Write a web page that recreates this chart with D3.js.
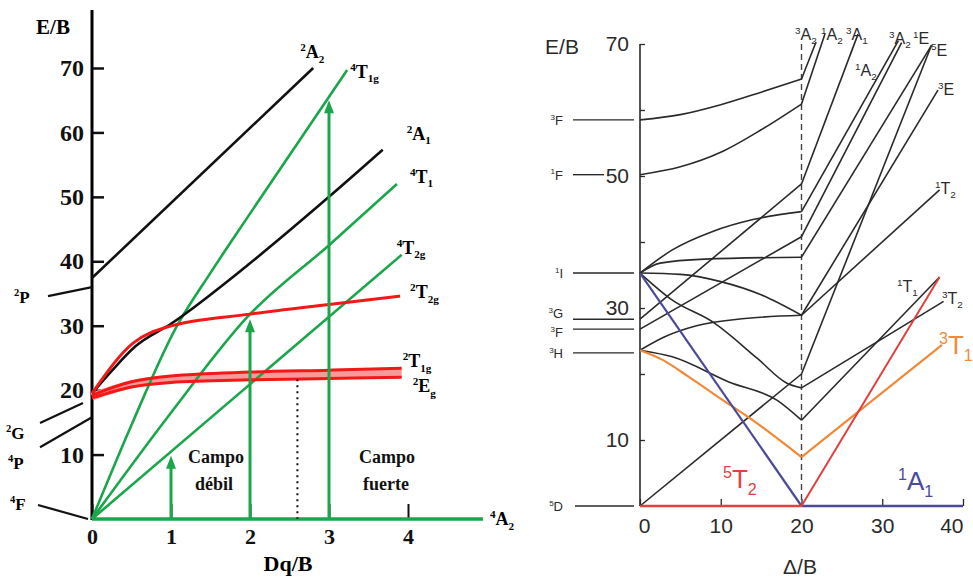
<!DOCTYPE html>
<html><head><meta charset="utf-8">
<script src="https://cdn.jsdelivr.net/npm/d3@7"></script>
<style>body{margin:0;background:#fff}</style>
</head><body>
<svg id="c" width="973" height="578"></svg>
<script>
// ===== Left diagram: d3 ion, E/B against Dq/B =====
const dqTicks = [0, 1, 2, 3, 4];
const ebTicksLeft = [10, 20, 30, 40, 50, 60, 70];

const leftBlack = [
  { name: "2A2", pts: [[0, 37.4], [2.8, 70]] },
  { name: "2A1", pts: [[0, 19.5], [0.25, 23], [0.55, 26.8], [1, 30.3], [2, 39.7], [3, 50], [3.68, 57.3]] }
];
const leftGreen = [
  { name: "4T2g", pts: [[0, 0], [3.92, 41]] },
  { name: "4T1", pts: [[0, 0], [1, 16.5], [1.97, 31.4], [3, 42.5], [3.86, 52]] },
  { name: "4T1g", pts: [[0, 0], [0.5, 14.6], [1.05, 29.4], [1.5, 38.2], [2, 47.4], [3.23, 69.7]] }
];
const leftRed = [
  { name: "2T2g", pts: [[0, 19.5], [0.52, 27.3], [0.95, 29.8], [2, 31.8], [3, 33.3], [3.9, 34.6]] },
  { name: "2T1g", pts: [[0, 19.2], [0.5, 21.3], [1, 22.2], [2, 22.8], [3, 23.1], [3.92, 23.4]] },
  { name: "2Eg", pts: [[0, 18.8], [0.5, 20.5], [1, 21.2], [2, 21.6], [3, 21.8], [3.92, 22]] }
];
// free-ion terms at Dq = 0
const leftFreeIonTerms = ["2P", "2G", "4P", "4F"];
const leftFreeIonE = [36, 18, 15.8, 0];
// transitions drawn as arrows from the ground state
const arrowDq = [1, 2, 3];
const arrowTopE = [9.8, 31, 65];
const crossoverDq = 2.6;
const crossoverE = 21.7;

// ===== Right diagram: d6 ion, E/B against Delta/B =====
const deltaTicks = [0, 10, 20, 30, 40];
const ebTicksRight = [10, 20, 30, 40, 50, 60, 70];
const ebLabelsRight = [10, 30, 50, 70];
const rightFreeIonTerms = ["3F", "1F", "1I", "3G", "3F", "3H", "5D"];
const rightFreeIonE = [58.5, 50.2, 35.3, 28.3, 26.8, 23.2, 0];
const spinCrossover = 20;

// weak-field branch (Delta/B 0..20)
const weakBlack = [
  [[0, 58.5], [5, 59.3], [10, 60.8], [15, 62.7], [20, 64.7]],
  [[0, 50.2], [5, 51.4], [10, 53.6], [15, 57], [20, 60.9]],
  [[0, 28.3], [20, 48.8]],
  [[0, 35.3], [4, 38.8], [9, 41.6], [14, 43.4], [20, 44.6]],
  [[0, 26.8], [20, 40.8]],
  [[0, 35.3], [2.5, 36.8], [8, 37.4], [20, 37.7]],
  [[0, 35.3], [5, 35.1], [10, 34], [15, 32], [20, 28.9]],
  [[0, 23.6], [3, 25.6], [7, 27.3], [13, 28.4], [20, 28.9]],
  [[0, 35.3], [4, 31.2], [9, 27.9], [14.5, 22.4], [18.2, 18.6], [20, 17.9]],
  [[0, 23.6], [4, 22.6], [11, 18.8], [17, 16], [20, 13]],
  [[0, 0], [20, 20]]
];
const weakRed = [[0, 0], [20, 0]];
const weakBlue = [[0, 35.3], [20, 0]];
const weakOrange = [[0, 23.6], [2.85, 22.1], [6, 19.6], [10.3, 16], [13.6, 13.3], [20, 7.4]];

// strong-field branch (Delta/B 20..40)
const strongBlack = [
  [[20, 64.7], [21.8, 70.3]],
  [[20, 60.9], [22.9, 71.5]],
  [[20, 48.8], [27, 71.5]],
  [[20, 44.6], [32, 70.5]],
  [[20, 40.8], [32.4, 70.2]],
  [[20, 37.7], [36.1, 69.8]],
  [[20, 20], [36.1, 69.8]],
  [[20, 28.9], [36.9, 63]],
  [[20, 28.9], [37.1, 47.9]],
  [[20, 13], [37.1, 34.7]],
  [[20, 17.9], [37.6, 31]]
];
const strongRed = [[20, 0], [37.1, 34.7]];
const strongBlue = [[20, 0], [40, 0]];
const strongOrange = [[20, 7.4], [37.4, 24.4]];

const svg = d3.select("#c");

function term(g, x, y, sup, main, sub, o) {
  const t = g.append("text").attr("x", x).attr("y", y)
    .attr("font-size", o.size).attr("fill", o.color || "#000")
    .attr("font-family", o.font).attr("font-weight", o.weight || "normal")
    .attr("text-anchor", o.anchor || "start");
  const small = o.size * 0.62;
  if (sup) t.append("tspan").text(sup).attr("font-size", small).attr("dy", -o.size * 0.4);
  t.append("tspan").text(main).attr("dy", sup ? o.size * 0.4 : 0);
  if (sub) t.append("tspan").text(sub).attr("font-size", small).attr("dy", o.size * 0.25);
  return t;
}

// ---------------- left panel ----------------
const xL = d3.scaleLinear().domain([0, 4]).range([92, 408]);
const yL = d3.scaleLinear().domain([0, 70]).range([519, 68]);
const gL = svg.append("g");
const serif = "'Liberation Serif', 'DejaVu Serif', serif";
const GREEN = "#1aa64b", RED = "#f21818";

const yAxisL = d3.axisLeft(yL).tickValues(ebTicksLeft).tickSizeInner(-12).tickSizeOuter(0).tickPadding(8)
  .tickFormat(d3.format("d"));
const ya = gL.append("g").attr("transform", `translate(${xL(0)},0)`).call(yAxisL);
ya.select(".domain").remove();
ya.selectAll("line").attr("stroke", "#111").attr("stroke-width", 2.5);
ya.selectAll("text").attr("font-family", serif).attr("font-weight", "bold").attr("font-size", 24).attr("fill", "#111");
gL.append("line").attr("x1", xL(0)).attr("x2", xL(0)).attr("y1", 10).attr("y2", yL(0) + 1)
  .attr("stroke", "#000").attr("stroke-width", 3);

const xAxisL = d3.axisBottom(xL).tickValues(dqTicks).tickSizeInner(-15).tickSizeOuter(0).tickPadding(9)
  .tickFormat(d3.format("d"));
const xa = gL.append("g").attr("transform", `translate(0,${yL(0)})`).call(xAxisL);
xa.select(".domain").remove();
xa.selectAll("line").attr("stroke", "#111").attr("stroke-width", 2);
xa.selectAll("text").attr("font-family", serif).attr("font-weight", "bold").attr("font-size", 22).attr("fill", "#111");
gL.append("line").attr("x1", xL(0)).attr("x2", 483).attr("y1", yL(0)).attr("y2", yL(0))
  .attr("stroke", GREEN).attr("stroke-width", 3.5);

gL.append("text").attr("x", 53).attr("y", 34).attr("text-anchor", "middle")
  .attr("font-family", serif).attr("font-weight", "bold").attr("font-size", 21).text("E/B");
gL.append("text").attr("x", 288).attr("y", 571).attr("text-anchor", "middle")
  .attr("font-family", serif).attr("font-weight", "bold").attr("font-size", 22).text("Dq/B");

// free-ion pointers left of the axis
const pointerDrop = { "2P": [48, 9], "2G": [40, 20], "4P": [40, 30], "4F": [38, -14] };
const pointerEnd = { "2P": 0, "2G": -9, "4P": 0, "4F": -4 };
leftFreeIonTerms.forEach((t, i) => {
  const y = yL(leftFreeIonE[i]);
  const [x0, dy] = pointerDrop[t];
  gL.append("line").attr("x1", x0).attr("y1", y + dy).attr("x2", xL(0) + pointerEnd[t]).attr("y2", y)
    .attr("stroke", "#111").attr("stroke-width", 2.2);
});
term(gL, 14, yL(36) + 16, "2", "P", "", { size: 17, font: serif, weight: "bold" });
term(gL, 6, yL(18) + 36, "2", "G", "", { size: 17, font: serif, weight: "bold" });
term(gL, 8, yL(15.8) + 52, "4", "P", "", { size: 17, font: serif, weight: "bold" });
term(gL, 10, yL(0) - 9, "4", "F", "", { size: 17, font: serif, weight: "bold" });

const lineL = d3.line().x(d => xL(d[0])).y(d => yL(d[1])).curve(d3.curveMonotoneX);

// red doublet band
gL.append("path").attr("d", lineL(leftRed[1].pts.map((p, i) => [p[0], (p[1] + leftRed[2].pts[i][1]) / 2])))
  .attr("fill", "none").attr("stroke", "#f79a9a").attr("stroke-width", 8);

leftGreen.forEach(s => gL.append("path").attr("d", lineL(s.pts)).attr("fill", "none")
  .attr("stroke", GREEN).attr("stroke-width", 2.6));
leftBlack.forEach(s => gL.append("path").attr("d", lineL(s.pts)).attr("fill", "none")
  .attr("stroke", "#111").attr("stroke-width", 2.6));
leftRed.forEach(s => gL.append("path").attr("d", lineL(s.pts)).attr("fill", "none")
  .attr("stroke", RED).attr("stroke-width", 3));

// dotted crossover marker
gL.append("line").attr("x1", xL(crossoverDq)).attr("x2", xL(crossoverDq))
  .attr("y1", yL(crossoverE)).attr("y2", yL(0)).attr("stroke", "#111")
  .attr("stroke-width", 2).attr("stroke-dasharray", "2,4");

// transition arrows
arrowDq.forEach((dq, i) => {
  const x = xL(dq), yTop = yL(arrowTopE[i]);
  gL.append("line").attr("x1", x).attr("x2", x).attr("y1", yL(0)).attr("y2", yTop + 10)
    .attr("stroke", GREEN).attr("stroke-width", 3);
  gL.append("path").attr("d", `M${x - 5},${yTop + 13}L${x},${yTop}L${x + 5},${yTop + 13}Z`).attr("fill", GREEN);
});

// line-end labels
const lo = { size: 18, font: serif, weight: "bold" };
const endOf = name => [...leftBlack, ...leftGreen, ...leftRed].find(s => s.name === name).pts.slice(-1)[0];
let e;
e = endOf("2A2"); term(gL, xL(e[0]) - 13, yL(e[1]) - 10, "2", "A", "2", lo);
e = endOf("4T1g"); term(gL, xL(e[0]) + 3, yL(e[1]) + 8, "4", "T", "1g", lo);
e = endOf("2A1"); term(gL, xL(e[0]) + 24, yL(e[1]) - 10, "2", "A", "1", lo);
e = endOf("4T1"); term(gL, xL(e[0]) + 13, yL(e[1]) - 1, "4", "T", "1", lo);
e = endOf("4T2g"); term(gL, xL(e[0]) - 5, yL(e[1]) - 1, "4", "T", "2g", lo);
e = endOf("2T2g"); term(gL, xL(e[0]) + 10, yL(e[1]) + 2, "2", "T", "2g", lo);
e = endOf("2T1g"); term(gL, xL(e[0]) + 1, yL(e[1]) - 1, "2", "T", "1g", lo);
e = endOf("2Eg"); term(gL, xL(e[0]) + 11, yL(e[1]) + 15, "2", "E", "g", lo);
term(gL, 490, yL(0) + 6, "4", "A", "2", lo);

const ct = { font: serif, weight: "bold", size: 18 };
[["Campo", 216, 463], ["débil", 214, 490], ["Campo", 387, 463], ["fuerte", 386, 490]].forEach(([t, x, y]) =>
  gL.append("text").attr("x", x).attr("y", y).attr("text-anchor", "middle").attr("font-family", ct.font)
    .attr("font-weight", ct.weight).attr("font-size", ct.size).attr("fill", "#111").text(t));

// ---------------- right panel ----------------
const xR = d3.scaleLinear().domain([0, 40]).range([640, 963]);
const yR = d3.scaleLinear().domain([0, 70]).range([506, 44]);
const gR = svg.append("g");
const sans = "'Liberation Sans', Arial, sans-serif";
const INK = "#2a2a2a", RRED = "#e0403e", BLUE = "#4b4a98", ORANGE = "#f08a3a";

const yAxisR = d3.axisLeft(yR).tickValues(ebTicksRight).tickSizeInner(-5).tickSizeOuter(0).tickPadding(11)
  .tickFormat(d => ebLabelsRight.includes(d) ? d : "");
const yaR = gR.append("g").attr("transform", `translate(${xR(0)},0)`).call(yAxisR);
yaR.select(".domain").remove();
yaR.selectAll("line").attr("stroke", INK).attr("stroke-width", 1.3);
yaR.selectAll("text").attr("font-family", sans).attr("font-size", 21).attr("fill", INK);
gR.append("line").attr("x1", xR(0)).attr("x2", xR(0)).attr("y1", yR(70)).attr("y2", yR(0))
  .attr("stroke", INK).attr("stroke-width", 1.6);

const xAxisR = d3.axisBottom(xR).tickValues(deltaTicks).tickSizeInner(-7).tickSizeOuter(0).tickPadding(12);
const xaR = gR.append("g").attr("transform", `translate(0,${yR(0)})`).call(xAxisR);
xaR.select(".domain").remove();
xaR.selectAll("line").attr("stroke", INK).attr("stroke-width", 1.3);
xaR.selectAll("text").attr("font-family", sans).attr("font-size", 21).attr("fill", INK);
xaR.selectAll(".tick").filter(d => d === 0).select("text").attr("dx", 4);
xaR.selectAll(".tick").filter(d => d === 40).select("text").attr("text-anchor", "end");

gR.append("text").attr("x", 562).attr("y", 54).attr("text-anchor", "middle")
  .attr("font-family", sans).attr("font-size", 21).attr("fill", INK).text("E/B");
gR.append("text").attr("x", 800).attr("y", 574).attr("text-anchor", "middle")
  .attr("font-family", sans).attr("font-size", 21).attr("fill", INK).text("Δ/B");

// free-ion levels
const termDy = { 3: -1, 4: 8 };
rightFreeIonTerms.forEach((t, i) => {
  const y = yR(rightFreeIonE[i]);
  const xEnd = t === "1F" ? 604 : xR(0) - 6;
  gR.append("line").attr("x1", t === "5D" ? 575 : 573).attr("x2", xEnd).attr("y1", y).attr("y2", y)
    .attr("stroke", INK).attr("stroke-width", 1.4);
  term(gR, 563, y + (termDy[i] !== undefined ? termDy[i] : 5), t[0], t[1], "", { size: 13, font: sans, color: INK, anchor: "end" });
});

// spin crossover line
gR.append("line").attr("x1", xR(spinCrossover)).attr("x2", xR(spinCrossover))
  .attr("y1", yR(70)).attr("y2", yR(0)).attr("stroke", "#444").attr("stroke-width", 1.4)
  .attr("stroke-dasharray", "6,4");

const curveR = d3.line().x(d => xR(d[0])).y(d => yR(d[1])).curve(d3.curveMonotoneX);
const straightR = d3.line().x(d => xR(d[0])).y(d => yR(d[1]));

weakBlack.forEach(p => gR.append("path").attr("d", curveR(p)).attr("fill", "none").attr("stroke", INK).attr("stroke-width", 1.6));
strongBlack.forEach(p => gR.append("path").attr("d", straightR(p)).attr("fill", "none").attr("stroke", INK).attr("stroke-width", 1.6));
gR.append("path").attr("d", curveR(weakOrange)).attr("fill", "none").attr("stroke", ORANGE).attr("stroke-width", 2.2);
gR.append("path").attr("d", straightR(strongOrange)).attr("fill", "none").attr("stroke", ORANGE).attr("stroke-width", 2.2);
gR.append("path").attr("d", straightR(weakBlue)).attr("fill", "none").attr("stroke", BLUE).attr("stroke-width", 2.2);
gR.append("path").attr("d", straightR(strongBlue)).attr("fill", "none").attr("stroke", BLUE).attr("stroke-width", 2.4);
gR.append("path").attr("d", straightR(weakRed)).attr("fill", "none").attr("stroke", RRED).attr("stroke-width", 2.4);
gR.append("path").attr("d", straightR(strongRed)).attr("fill", "none").attr("stroke", RRED).attr("stroke-width", 2);

// state labels
const so = { size: 16, font: sans, color: INK };
term(gR, 795, 40, "3", "A", "2", so);
term(gR, 821, 40, "1", "A", "2", so);
term(gR, 846, 40, "3", "A", "1", so);
term(gR, 855, 76, "1", "A", "2", so);
term(gR, 889, 44, "3", "A", "2", so);
term(gR, 913, 44, "1", "E", "", so);
term(gR, 931, 56, "5", "E", "", so);
term(gR, 938, 95, "3", "E", "", so);
term(gR, 935, 194, "1", "T", "2", so);
term(gR, 897, 292, "1", "T", "1", so);
term(gR, 942, 304, "3", "T", "2", so);
const big = { size: 26, font: sans };
term(gR, 939, 354, "3", "T", "1", { ...big, color: ORANGE });
term(gR, 723, 488, "5", "T", "2", { ...big, color: RRED });
term(gR, 898, 490, "1", "A", "1", { ...big, color: BLUE });
</script>
</body></html>
